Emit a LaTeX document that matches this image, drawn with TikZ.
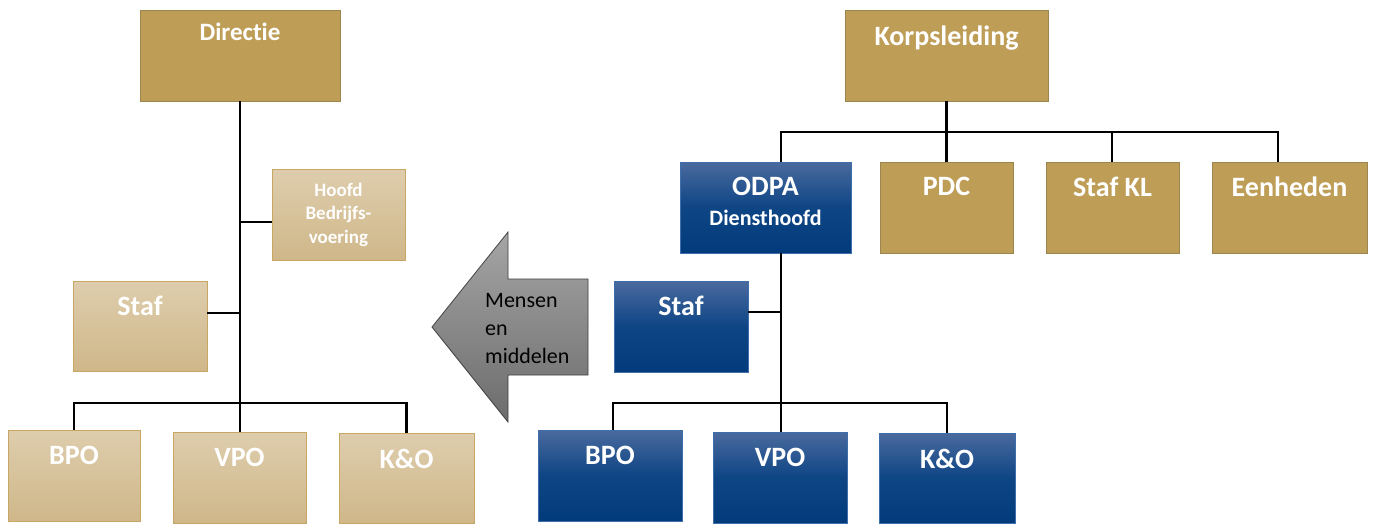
\documentclass[tikz,border=0pt]{standalone}
\usepackage{fontspec}
\setmainfont{Carlito}[Ligatures={NoCommon,NoRare}]
\usetikzlibrary{calc}
\definecolor{gold}{HTML}{BE9D57}
\definecolor{goldline}{HTML}{9C8550}
\definecolor{tantop}{HTML}{DECDAD}
\definecolor{tanbot}{HTML}{CFB789}
\definecolor{tanline}{HTML}{C8A765}
\definecolor{bluetop}{HTML}{4A6A9E}
\definecolor{bluemid}{HTML}{0E4585}
\definecolor{bluebot}{HTML}{023B7B}
\definecolor{blueline}{HTML}{3F6FAA}
\definecolor{arrtop}{HTML}{A5A5A5}
\definecolor{arrbot}{HTML}{6C6C6C}
\tikzset{
  gbox/.style={draw=goldline, line width=0.9pt, fill=gold, inner sep=0pt},
  tbox/.style={draw=tanline, line width=0.9pt, top color=tantop, bottom color=tanbot, inner sep=0pt},
  bbox/.style={draw=blueline, line width=0.9pt, top color=bluetop, bottom color=bluebot, middle color=bluemid, inner sep=0pt},
  lbl/.style={anchor=base, text=white, inner sep=0pt, font=\bfseries\fontsize{28}{32}\selectfont},
  conn/.style={line width=2.5pt, black},
}
\begin{document}
\begin{tikzpicture}[x=1pt, y=-1pt]
\useasboundingbox (0,0) rectangle (1373,523);
\fill[white] (0,0) rectangle (1373,523);

% ---------- left tree ----------
\node[gbox, minimum width=200pt, minimum height=91pt] (dir) at (240,55.5) {};
\node[lbl, font=\bfseries\fontsize{25}{29}\selectfont] (dirT) at (240,40) {Directie};

\node[tbox, minimum width=133pt, minimum height=91pt] (hb) at (338.5,214.5) {};
\node[lbl, align=center, font=\bfseries\fontsize{19}{23.5}\selectfont] (hbT) at (338.5,243) {Hoofd\\Bedrijfs-\\voering};

\node[tbox, minimum width=134pt, minimum height=90pt] (lstaf) at (140,326) {};
\node[lbl] (lstafT) at (140,315) {Staf};

\node[tbox, minimum width=132pt, minimum height=91pt] (lbpo) at (74,475.5) {};
\node[lbl] (lbpoT) at (74,464) {BPO};
\node[tbox, minimum width=133pt, minimum height=91pt] (lvpo) at (239.5,477.5) {};
\node[lbl] (lvpoT) at (239.5,466) {VPO};
\node[tbox, minimum width=135pt, minimum height=90pt] (lkno) at (406.5,478) {};
\node[lbl] (lknoT) at (406.5,468) {K\&O};

\coordinate (lbus) at (240,403);
\coordinate (hbj) at (240,222);
\coordinate (lsj) at (240,313);
\draw[conn] (dir.south) -- (dir.south |- lvpo.north);
\draw[conn] (hbj) -- (hbj -| hb.west);
\draw[conn] (lsj) -- (lsj -| lstaf.east);
\draw[conn] (lbpo.north) -- (lbpo.north |- lbus) -- (lkno.north |- lbus) -- (lkno.north);

% ---------- arrow ----------
\path[draw=black!75, line width=0.8pt, top color=arrtop, bottom color=arrbot]
  (588,279) -- (508,279) -- (508,232) -- (432,327) -- (508,422) -- (508,375) -- (588,375) -- cycle;
\node[anchor=base west, align=left, inner sep=0pt, font=\fontsize{22}{28}\selectfont] (mtxt) at (485,363) {Mensen\\en\\middelen};

% ---------- right tree ----------
\node[gbox, minimum width=203pt, minimum height=91pt] (korps) at (946.5,55.5) {};
\node[lbl] (korpsT) at (946.5,45) {Korpsleiding};

\node[bbox, minimum width=171pt, minimum height=91pt] (odpa) at (765.5,207.5) {};
\node[lbl] (odpaT) at (765.5,195) {ODPA};
\node[lbl, font=\bfseries\fontsize{22}{26}\selectfont] (odpaT2) at (765.5,225) {Diensthoofd};

\node[gbox, minimum width=133pt, minimum height=91pt] (pdc) at (946.5,207.5) {};
\node[lbl] (pdcT) at (946.5,195) {PDC};
\node[gbox, minimum width=133pt, minimum height=91pt] (stafkl) at (1112.5,207.5) {};
\node[lbl] (stafklT) at (1112.5,196) {Staf KL};
\node[gbox, minimum width=155pt, minimum height=91pt] (eenh) at (1289.5,207.5) {};
\node[lbl] (eenhT) at (1289.5,196) {Eenheden};

\node[bbox, minimum width=134pt, minimum height=91pt] (rstaf) at (681,326.5) {};
\node[lbl] (rstafT) at (681,315) {Staf};

\node[bbox, minimum width=144pt, minimum height=91pt] (rbpo) at (610,475.5) {};
\node[lbl] (rbpoT) at (610,464) {BPO};
\node[bbox, minimum width=134pt, minimum height=91pt] (rvpo) at (780,477.5) {};
\node[lbl] (rvpoT) at (780,466) {VPO};
\node[bbox, minimum width=136pt, minimum height=90pt] (rkno) at (947,478) {};
\node[lbl] (rknoT) at (947,468) {K\&O};

\coordinate (oj) at (781,132);
\coordinate (ob) at (781,253);
\coordinate (klj) at (1112,132);
\coordinate (ej) at (1278,132);
\coordinate (rsj) at (781,312);
\coordinate (rbj) at (613,403);
\coordinate (rkj) at (947,403);

\draw[conn] (korps.south) -- (pdc.north);
\draw[conn] (ob |- odpa.north) -- (oj) -- (ej) -- (ej |- eenh.north);
\draw[conn] (klj) -- (klj |- stafkl.north);
\draw[conn] (ob) -- (rvpo.north -| ob);
\draw[conn] (rsj) -- (rsj -| rstaf.east);
\draw[conn] (rbj |- rbpo.north) -- (rbj) -- (rkj) -- (rkj |- rkno.north);
\end{tikzpicture}
\end{document}
